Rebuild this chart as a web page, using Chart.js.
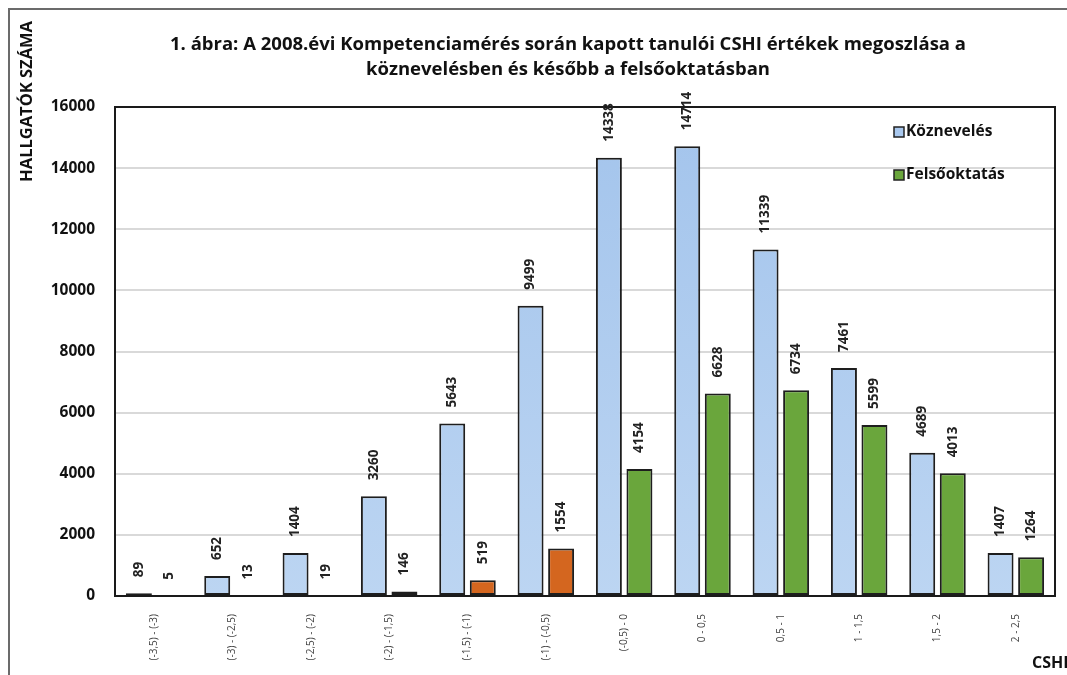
<!DOCTYPE html>
<html>
<head>
<meta charset="utf-8">
<script src="https://cdn.jsdelivr.net/npm/chart.js@4/dist/chart.umd.min.js"></script>
<style>
  html, body { margin: 0; padding: 0; background: #fff; }
  #wrap { position: relative; width: 1067px; height: 675px; }
</style>
</head>
<body>
<div id="wrap"><canvas id="cshi"></canvas></div>
<script>
// Kategóriák (CSHI sávok)
const categories = ['(-3,5) - (-3)', '(-3) - (-2,5)', '(-2,5) - (-2)', '(-2) - (-1,5)', '(-1,5) - (-1)', '(-1) - (-0,5)',
    '(-0,5) - 0', '0 - 0,5', '0,5 - 1', '1 - 1,5', '1,5 - 2', '2 - 2,5'];

// Köznevelés értékek
const koznevelesValues = [89, 652, 1404, 3260, 5643, 9499, 14338, 14714, 11339, 7461, 4689, 1407];

// Felsőoktatás értékek
const felsooktatasValues = [5, 13, 19, 146, 519, 1554, 4154, 6628, 6734, 5599, 4013, 1264];

// Y tengely beosztás
const yTicks = [0, 2000, 4000, 6000, 8000, 10000, 12000, 14000, 16000];

const titleLines = ['1. ábra: A 2008.évi Kompetenciamérés során kapott tanulói CSHI értékek megoszlása a',
    'köznevelésben és később a felsőoktatásban'];
const yTitle = 'HALLGATÓK SZÁMA';
const xTitle = 'CSHI';

const FONT = '"Open Sans", "DejaVu Sans", sans-serif';
const BLUE = '#a9c8ee';
const GREEN = '#6aa63c';
const ORANGE = '#d4661f';

// Felsőoktatás: negatív sávok narancs, a többi zöld
const felsoColors = categories.map((c, i) => i < 6 ? ORANGE : GREEN);

function blueGradient(ctx) {
    const area = ctx.chart.chartArea;
    if (!area) return BLUE;
    const g = ctx.chart.ctx.createLinearGradient(0, area.top, 0, area.bottom);
    g.addColorStop(0, '#a3c4ec');
    g.addColorStop(1, '#bcd5f2');
    return g;
}

// Feliratok, keret, jelmagyarázat
const decor = {
    id: 'decor',
    beforeDraw(chart) {
        const c = chart.ctx;
        c.save();
        c.fillStyle = '#fff';
        c.fillRect(0, 0, chart.width, chart.height);
        // külső keret
        c.strokeStyle = '#6b6b6b';
        c.lineWidth = 2;
        c.beginPath();
        c.moveTo(9, chart.height);
        c.lineTo(9, 9);
        c.lineTo(chart.width, 9);
        c.stroke();
        c.restore();
    },
    afterDatasetsDraw(chart) {
        const c = chart.ctx;
        const a = chart.chartArea;
        c.save();
        // rajzterület kerete
        c.strokeStyle = '#1a1a1a';
        c.lineWidth = 2;
        c.strokeRect(a.left, a.top, a.right - a.left, a.bottom - a.top);

        // cím
        c.fillStyle = '#111';
        c.textAlign = 'center';
        c.textBaseline = 'alphabetic';
        c.font = 'bold 18.5px ' + FONT;
        c.fillText(titleLines[0], 568, 50);
        c.fillText(titleLines[1], 568, 75);

        // y tengely címe
        c.save();
        c.translate(27, 21);
        c.rotate(-Math.PI / 2);
        c.textAlign = 'right';
        c.textBaseline = 'middle';
        c.font = 'bold 16.5px ' + FONT;
        c.fillText(yTitle, 0, 0);
        c.restore();

        // x tengely címe
        c.textAlign = 'left';
        c.font = 'bold 16px ' + FONT;
        c.fillText(xTitle, 1032, 668);

        // adatfeliratok
        c.font = 'bold 13.5px ' + FONT;
        c.fillStyle = '#222';
        chart.data.datasets.forEach((ds, di) => {
            chart.getDatasetMeta(di).data.forEach((bar, i) => {
                c.save();
                c.translate(bar.x, bar.y - 16);
                c.rotate(-Math.PI / 2);
                c.textAlign = 'left';
                c.textBaseline = 'middle';
                c.fillText(String(ds.data[i]), 0, 0);
                c.restore();
            });
        });

        // jelmagyarázat
        const items = [
            { label: chart.data.datasets[0].label, color: BLUE, y: a.top + 25 },
            { label: chart.data.datasets[1].label, color: GREEN, y: a.top + 68 }
        ];
        c.font = 'bold 15.5px ' + FONT;
        c.textBaseline = 'middle';
        items.forEach(it => {
            c.fillStyle = it.color;
            c.fillRect(a.left + 779, it.y - 5, 10, 10);
            c.strokeStyle = '#222';
            c.lineWidth = 1.5;
            c.strokeRect(a.left + 779, it.y - 5, 10, 10);
            c.fillStyle = '#111';
            c.fillText(it.label, a.left + 791, it.y);
        });
        c.restore();
    }
};

new Chart(document.getElementById('cshi'), {
    type: 'bar',
    data: {
        labels: categories,
        datasets: [{
            label: 'Köznevelés',
            data: koznevelesValues,
            backgroundColor: blueGradient,
            borderColor: '#1e1e1e',
            borderWidth: 2,
            borderSkipped: false
        }, {
            label: 'Felsőoktatás',
            data: felsooktatasValues,
            backgroundColor: felsoColors,
            borderColor: '#1e1e1e',
            borderWidth: 2,
            borderSkipped: false
        }]
    },
    options: {
        responsive: true,
        maintainAspectRatio: false,
        animation: false,
        devicePixelRatio: 1,
        categoryPercentage: 0.78,
        barPercentage: 0.85,
        layout: { padding: { left: 0, top: 107, right: 12, bottom: 0 } },
        plugins: {
            legend: { display: false },
            tooltip: { enabled: false }
        },
        scales: {
            x: {
                grid: { display: false },
                border: { display: false },
                ticks: {
                    minRotation: 90,
                    maxRotation: 90,
                    autoSkip: false,
                    padding: 10,
                    color: '#444',
                    font: { family: FONT, size: 10 }
                },
                afterFit(scale) { scale.height = 79; }
            },
            y: {
                min: 0,
                max: 16000,
                afterBuildTicks(scale) { scale.ticks = yTicks.map(v => ({ value: v })); },
                grid: { color: '#d9d9d9', lineWidth: 2, drawTicks: false },
                border: { display: false },
                ticks: {
                    padding: 20,
                    color: '#111',
                    font: { family: FONT, size: 15.5, weight: 'bold' },
                    callback: v => String(v)
                },
                afterFit(scale) { scale.width = 115; }
            }
        }
    },
    plugins: [decor]
});
</script>
</body>
</html>
